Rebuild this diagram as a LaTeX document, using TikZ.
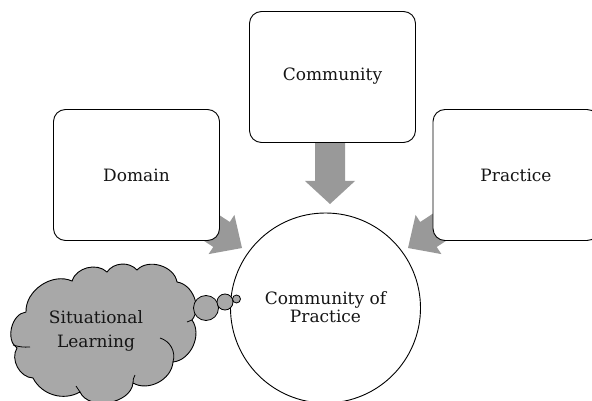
\documentclass[tikz,border=0pt]{standalone}
\usepackage{fontspec}
\setmainfont{DejaVu Serif}
\definecolor{arrowgray}{HTML}{999999}
\definecolor{cloudgray}{HTML}{A8A8A8}
\definecolor{txt}{HTML}{151515}
\begin{document}
\begin{tikzpicture}[x=1pt,y=-1pt,
  boxnode/.style={draw=black, line width=0.9pt, fill=white, rounded corners=12pt, minimum width=166pt, minimum height=131pt, inner sep=0pt},
  lbl/.style={font=\fontsize{17}{19}\selectfont, text=txt, align=center},
  blockarrow/.style={fill=arrowgray, draw=none},
  bubble/.style={draw=black, line width=0.8pt, fill=cloudgray},
  inner stroke/.style={line width=0.8pt}]
\useasboundingbox (0,0) rectangle (592,401);
\clip (0,0) rectangle (592,401);
% block arrows (drawn first, boxes overlap their tails)
\fill[blockarrow] (154.8,208.5) -- (213.3,247.0) -- (208.6,254.1) -- (242,248) -- (234.4,214.9) -- (229.8,222.0) -- (171.3,183.5) -- cycle;
\fill[blockarrow] (495.2,208.5) -- (436.7,247.0) -- (441.4,254.1) -- (408,248) -- (415.6,214.9) -- (420.2,222.0) -- (478.7,183.5) -- cycle;
\fill[blockarrow] (315,130) -- (315,181) -- (305,181) -- (330,204) -- (355,181) -- (345,181) -- (345,130) -- cycle;
% boxes
\node[boxnode] (community) at (332.5,77) {};
\node[lbl] at (332.5,76) {Community};
\node[boxnode] (domain) at (136.5,175) {};
\node[lbl] at (136.5,175) {Domain};
\node[boxnode] (practice) at (516,175) {};
\node[lbl] at (516,175) {Practice};
% central circle
\node[draw=black, line width=0.9pt, fill=white, circle, minimum size=190pt, inner sep=0pt] (cop) at (325.5,308) {};
\node[lbl, font=\fontsize{17}{18.5}\selectfont] at (325.5,307) {Community of\\Practice};
% thought cloud
\coordinate (q1) at (17,348);
\coordinate (q2) at (26,312);
\coordinate (q3) at (72,281);
\coordinate (q4) at (107,272);
\coordinate (q5) at (137,270);
\coordinate (q6) at (177,282);
\coordinate (q7) at (192,320);
\coordinate (q8) at (173,362);
\coordinate (q9) at (133,383);
\coordinate (q10) at (80,392);
\coordinate (q11) at (33,378);
\draw[line width=0.9pt, fill=cloudgray]
  (q1) to[bend left=70] (q2) to[bend left=58] (q3) to[bend left=58] (q4)
  to[bend left=52] (q5) to[bend left=64] (q6) to[bend left=60] (q7)
  to[bend left=60] (q8) to[bend left=58] (q9) to[bend left=75] (q10)
  to[bend left=46] (q11) to[bend left=60] cycle;
% inner strokes of the cloud
\draw[inner stroke] (160,338) to[bend left=45] (q8);
\draw[inner stroke] (187,322) to[bend left=10] (q7);
\draw[inner stroke] (13,345) to[bend right=10] (30,347);
\draw[inner stroke] (q9) to[bend left=15] (135,375);
\draw[inner stroke] (q10) to[bend left=10] (76,386);
\node[lbl, font=\fontsize{17}{24}\selectfont] (sl) at (96,331) {Situational\\Learning};
\node[bubble, circle, minimum size=25pt, inner sep=0pt] (b1) at (206,308) {};
\node[bubble, circle, minimum size=16pt, inner sep=0pt] (b2) at (225,302) {};
\node[bubble, circle, minimum size=8pt, inner sep=0pt] (b3) at (236.5,299) {};
\end{tikzpicture}
\end{document}
